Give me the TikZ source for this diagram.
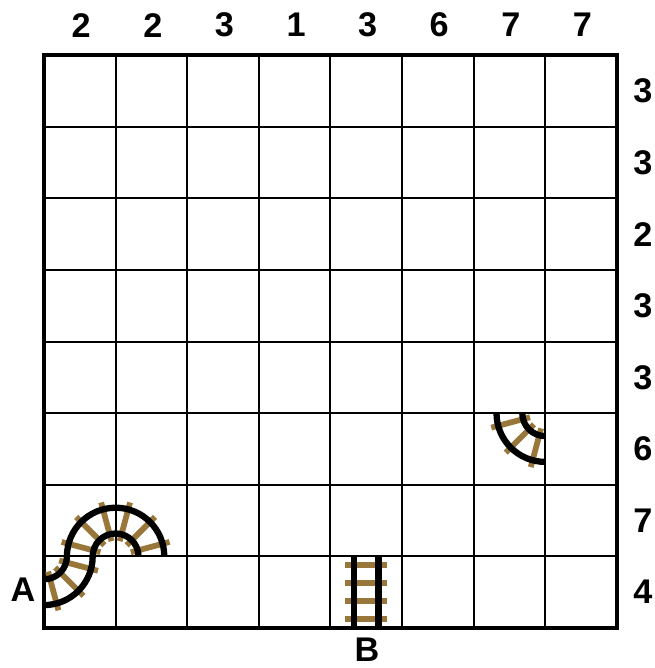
\documentclass[tikz,border=0pt]{standalone}
\usepackage{fontspec}
\setmainfont{Liberation Sans}
\usetikzlibrary{calc}
\definecolor{tiebrown}{RGB}{153,119,58}
\tikzset{
  clue/.style={font=\fontsize{13.6}{15}\selectfont\bfseries, inner sep=0pt},
  tie/.style={draw=tiebrown, line width=2.3pt},
  rail/.style={draw=black, line width=2.5pt},
  thin grid/.style={line width=0.8pt},
  frame/.style={line width=1.6pt}
}
\begin{document}
\begin{tikzpicture}[x=1cm,y=1cm]
\useasboundingbox (-0.6145,-0.5587) rectangle (8.520,8.771);
% grid
\draw[thin grid] (0,0) grid (8,8);
\draw[frame] (0,0) rectangle (8,8);
% column clues
\foreach \v [count=\i from 0] in {2,2,3,1,3,6,7,7}
  \node[clue] (c\i) at (\i+0.52,8.42) {\v};
% row clues
\foreach \v [count=\j from 0] in {3,3,2,3,3,6,7,4}
  \node[clue] (r\j) at (8.366,7.5-\j) {\v};
% labels
\node[clue] (A) at (-0.293,0.53) {A};
\node[clue] (B) at (4.51,-0.307) {B};
% track A: quarter in bottom-left cell (centre (0,1))
\foreach \a in {285,315,345}
  \draw[tie] ($(0,1)+(\a:0.22)$) -- ($(0,1)+(\a:0.78)$);
% arch across row 7 (centre (1,1))
\foreach \a in {15,45,75,105,135,165}
  \draw[tie] ($(1,1)+(\a:0.22)$) -- ($(1,1)+(\a:0.78)$);
\draw[rail] (0,0.68) arc[start angle=270,end angle=360,radius=0.32];
\draw[rail] (0,0.32) arc[start angle=270,end angle=360,radius=0.68];
\draw[rail] (0.68,1) arc[start angle=180,end angle=0,radius=0.32];
\draw[rail] (0.32,1) arc[start angle=180,end angle=0,radius=0.68];
% track in row 6, column 7 (centre (7,3))
\foreach \a in {195,225,255}
  \draw[tie] ($(7,3)+(\a:0.22)$) -- ($(7,3)+(\a:0.78)$);
\draw[rail] (6.68,3) arc[start angle=180,end angle=270,radius=0.32];
\draw[rail] (6.32,3) arc[start angle=180,end angle=270,radius=0.68];
% straight track B (column 5, row 8)
\foreach \y in {0.125,0.375,0.625,0.875}
  \draw[tie] (4.21,\y) -- (4.79,\y);
\draw[rail] (4.33,0) -- (4.33,1);
\draw[rail] (4.67,0) -- (4.67,1);
\end{tikzpicture}
\end{document}
